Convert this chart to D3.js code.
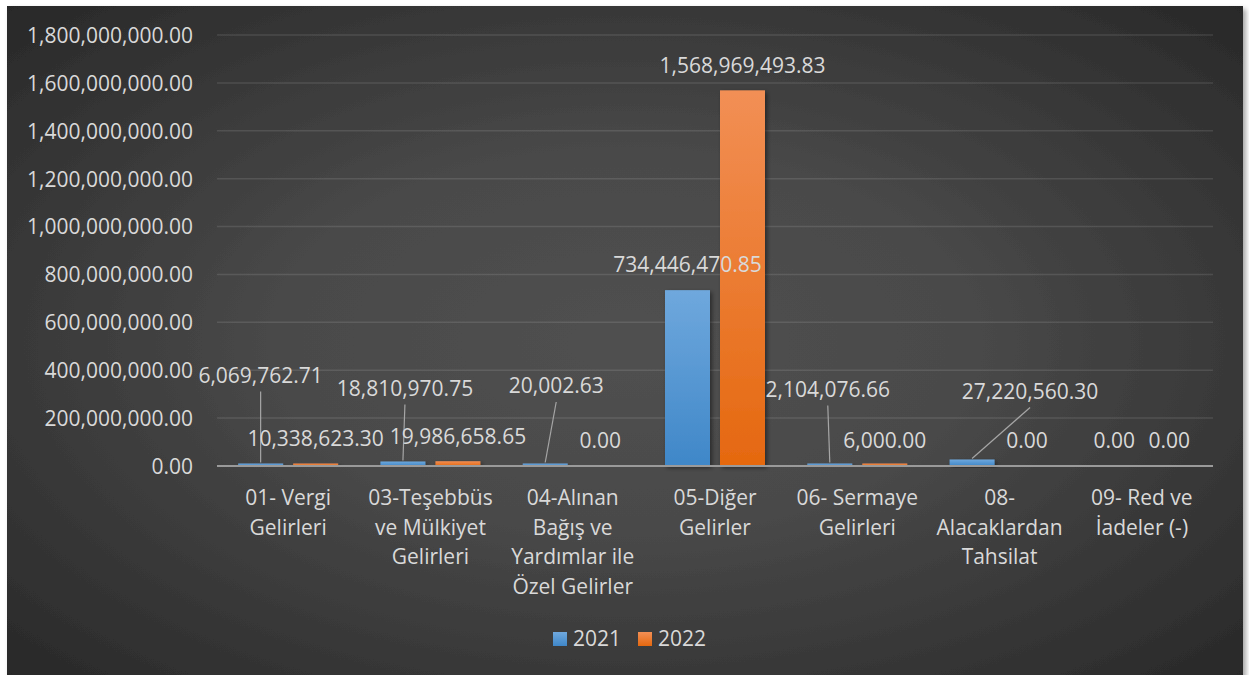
<!DOCTYPE html>
<html>
<head>
<meta charset="utf-8">
<script src="https://cdn.jsdelivr.net/npm/d3@7"></script>
<style>
  html, body { margin: 0; padding: 0; background: #ffffff; }
  svg { display: block; }
  text { font-family: "Open Sans", "DejaVu Sans", sans-serif; fill: #d9d9d9; }
</style>
</head>
<body>
<svg id="chart" width="1249" height="675"></svg>
<script>
// ---- data ----
const categories = [
  "01- Vergi Gelirleri",
  "03-Teşebbüs ve Mülkiyet Gelirleri",
  "04-Alınan Bağış ve Yardımlar ile Özel Gelirler",
  "05-Diğer Gelirler",
  "06- Sermaye Gelirleri",
  "08- Alacaklardan Tahsilat",
  "09- Red ve İadeler (-)"
];
const categoryLines = [
  ["01- Vergi", "Gelirleri"],
  ["03-Teşebbüs", "ve Mülkiyet", "Gelirleri"],
  ["04-Alınan", "Bağış ve", "Yardımlar ile", "Özel Gelirler"],
  ["05-Diğer", "Gelirler"],
  ["06- Sermaye", "Gelirleri"],
  ["08-", "Alacaklardan", "Tahsilat"],
  ["09- Red ve", "İadeler (-)"]
];
const seriesNames = ["2021", "2022"];
const values2021 = [6069762.71, 18810970.75, 20002.63, 734446470.85, 2104076.66, 27220560.30, 0.00];
const values2022 = [10338623.30, 19986658.65, 0.00, 1568969493.83, 6000.00, 0.00, 0.00];
const yTicks = [0, 200000000, 400000000, 600000000, 800000000, 1000000000, 1200000000, 1400000000, 1600000000, 1800000000];

// label displacement (pixels) for manually moved data labels
const labelShift2021 = [[0, -64], [2, -48], [11, -55], [0, 0], [-2, -51], [58, -43], [0, 0]];
const labelShift2022 = [[0, 0], [0, 0], [0, 0], [0, 0], [0, 0], [0, 0], [0, 0]];

// ---- layout ----
const svg = d3.select("#chart");
const plotLeft = 217, plotRight = 1213, plotTop = 35, plotBottom = 466;

const defs = svg.append("defs");
const bg = defs.append("radialGradient").attr("id", "bgGrad")
  .attr("cx", 0.5).attr("cy", 0.5).attr("r", 0.75);
bg.append("stop").attr("offset", 0).attr("stop-color", "#505050");
bg.append("stop").attr("offset", 0.35).attr("stop-color", "#4a4a4a");
bg.append("stop").attr("offset", 1).attr("stop-color", "#252525");

const gBlue = defs.append("linearGradient").attr("id", "gBlue").attr("x1", 0).attr("y1", 0).attr("x2", 0).attr("y2", 1);
gBlue.append("stop").attr("offset", 0).attr("stop-color", "#6fa8dd");
gBlue.append("stop").attr("offset", 1).attr("stop-color", "#3f87c8");
const gOrange = defs.append("linearGradient").attr("id", "gOrange").attr("x1", 0).attr("y1", 0).attr("x2", 0).attr("y2", 1);
gOrange.append("stop").attr("offset", 0).attr("stop-color", "#f28f55");
gOrange.append("stop").attr("offset", 1).attr("stop-color", "#e5680f");

const sh = defs.append("filter").attr("id", "shadow").attr("x", "-20%").attr("y", "-20%").attr("width", "140%").attr("height", "140%");
sh.append("feDropShadow").attr("dx", 2).attr("dy", 2).attr("stdDeviation", 2).attr("flood-color", "#000").attr("flood-opacity", 0.45);
const sh2 = defs.append("filter").attr("id", "boxShadow").attr("x", "-5%").attr("y", "-5%").attr("width", "110%").attr("height", "110%");
sh2.append("feDropShadow").attr("dx", 3).attr("dy", 3).attr("stdDeviation", 2.5).attr("flood-color", "#000").attr("flood-opacity", 0.35);

svg.append("rect").attr("x", 7).attr("y", 6).attr("width", 1236).attr("height", 672)
  .attr("fill", "url(#bgGrad)").attr("filter", "url(#boxShadow)");

const x = d3.scaleBand().domain(categories).range([plotLeft, plotRight]).paddingInner(0).paddingOuter(0);
const bw = x.bandwidth();
const x1 = d3.scaleBand().domain(seriesNames)
  .range([bw / 2 - 50, bw / 2 + 50]).paddingInner(10 / 55).paddingOuter(0);
const y = d3.scaleLinear().domain([0, 1800000000]).range([plotBottom, plotTop]);
const fmt = d3.format(",.2f");

// gridlines
svg.append("g").selectAll("line").data(yTicks.filter(t => t > 0)).join("line")
  .attr("x1", plotLeft).attr("x2", plotRight)
  .attr("y1", d => y(d)).attr("y2", d => y(d))
  .attr("stroke", "rgba(255,255,255,0.11)").attr("stroke-width", 1.5);

// y axis labels
const yAxis = d3.axisLeft(y).tickValues(yTicks).tickFormat(fmt).tickSize(0).tickPadding(0);
const yg = svg.append("g").attr("transform", `translate(193,0)`).call(yAxis);
yg.select(".domain").remove();
yg.selectAll("text").attr("font-size", 21).attr("fill", "#d9d9d9")
  .style("font-family", '"Open Sans", sans-serif').attr("dy", "0.35em");

// series
const series = [
  { name: "2021", values: values2021, fill: "url(#gBlue)", shift: labelShift2021 },
  { name: "2022", values: values2022, fill: "url(#gOrange)", shift: labelShift2022 }
];

const minH = 2.5; // smallest visible bar height for non-zero values
const barsG = svg.append("g");
series.forEach(s => {
  barsG.selectAll(null).data(s.values.map((v, i) => ({ v, i })).filter(d => d.v > 0)).join("rect")
    .attr("x", d => x(categories[d.i]) + x1(s.name))
    .attr("width", x1.bandwidth())
    .attr("y", d => Math.min(y(d.v), y(0) - minH))
    .attr("height", d => Math.max(minH, y(0) - y(d.v)))
    .attr("fill", s.fill)
    .attr("filter", "url(#shadow)");
});

// x axis line
svg.append("line").attr("x1", plotLeft).attr("x2", plotRight)
  .attr("y1", y(0)).attr("y2", y(0))
  .attr("stroke", "#9a9a9a").attr("stroke-width", 2);

// data labels with leader lines
const labG = svg.append("g");
series.forEach(s => {
  s.values.forEach((v, i) => {
    const bx = x(categories[i]) + x1(s.name) + x1.bandwidth() / 2;
    const by = y(v);
    const [dx, dy] = s.shift[i];
    const lx = bx + dx, ly = by - 25 + dy;
    if (dx !== 0 || dy !== 0) {
      labG.append("line")
        .attr("x1", lx).attr("y1", ly + 16)
        .attr("x2", bx).attr("y2", Math.min(by, y(0) - minH) - 1)
        .attr("stroke", "#a6a6a6").attr("stroke-width", 1.2);
    }
    labG.append("text").attr("x", lx).attr("y", ly).attr("dy", "0.35em")
      .attr("text-anchor", "middle").attr("font-size", 21).text(fmt(v));
  });
});

// category labels
const catG = svg.append("g");
categories.forEach((c, i) => {
  const cx = x(c) + bw / 2;
  const t = catG.append("text").attr("text-anchor", "middle").attr("font-size", 21);
  categoryLines[i].forEach((ln, j) => {
    t.append("tspan").attr("x", cx).attr("y", 498 + j * 29.5).attr("dy", "0.35em").text(ln);
  });
});

// legend
const legend = svg.append("g");
const legItems = [
  { name: "2021", fill: "url(#gBlue)", x: 553 },
  { name: "2022", fill: "url(#gOrange)", x: 638 }
];
legItems.forEach(it => {
  legend.append("rect").attr("x", it.x).attr("y", 632).attr("width", 14).attr("height", 14).attr("fill", it.fill);
  legend.append("text").attr("x", it.x + 20).attr("y", 639).attr("dy", "0.35em")
    .attr("font-size", 21).text(it.name);
});
</script>
</body>
</html>
